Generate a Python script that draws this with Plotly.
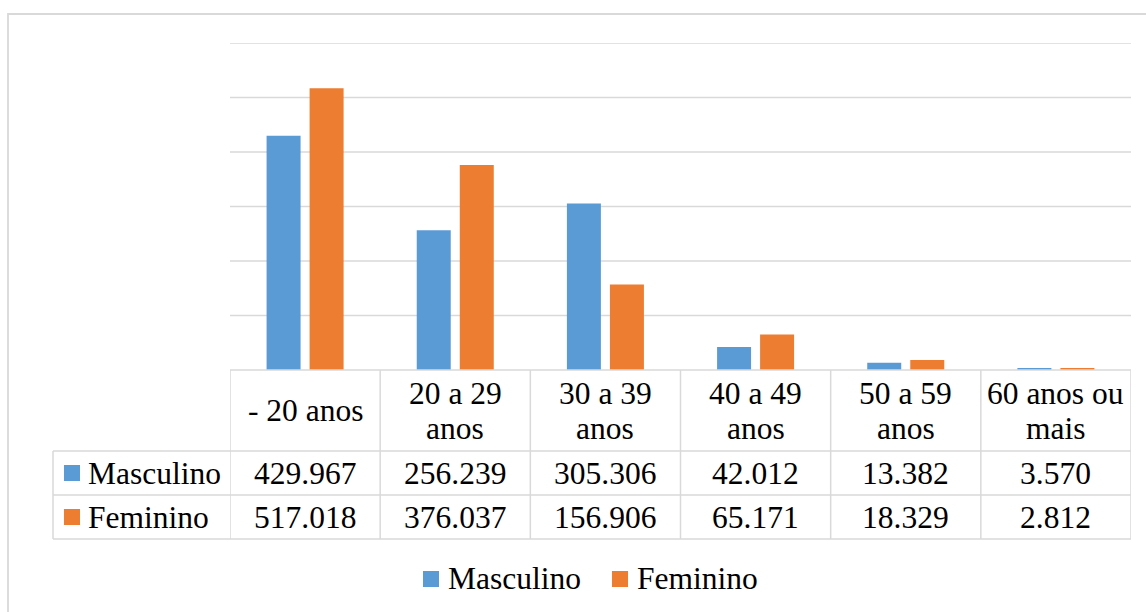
import plotly.graph_objects as go

# ---- data ----
categories = ["- 20 anos", "20 a 29<br>anos", "30 a 39<br>anos", "40 a 49<br>anos",
              "50 a 59<br>anos", "60 anos ou<br>mais"]
series_names = ["Masculino", "Feminino"]
masculino = [429967, 256239, 305306, 42012, 13382, 3570]
feminino = [517018, 376037, 156906, 65171, 18329, 2812]
y_ticks = [0, 100000, 200000, 300000, 400000, 500000, 600000]

# ---- style ----
W, H = 1146, 612
BLUE, ORANGE = "#5B9BD5", "#ED7D31"
GRID = "#D9D9D9"
FONT = "Liberation Serif, Times New Roman, DejaVu Serif, serif"
FS = 31.5
colors = [BLUE, ORANGE]
values = [masculino, feminino]
Y_MAX = y_ticks[-1]


def px(x):
    return x / W


def py(y):
    return 1 - y / H


def fmt(v):
    return f"{v:,}".replace(",", ".")


fig = go.Figure()
xs = list(range(len(categories)))
for name, vals, c in zip(series_names, values, colors):
    fig.add_trace(go.Bar(x=xs, y=vals, name=name, marker=dict(color=c, line=dict(width=0)),
                         showlegend=False, hoverinfo="y+name"))

shapes = []
annotations = []
line = dict(color=GRID, width=1.5)
n = len(categories)

# outer chart border (cut off at right and bottom)
shapes.append(dict(type="rect", xref="paper", yref="paper", x0=px(8), x1=px(W + 20),
                   y0=py(H + 20), y1=py(14), line=dict(color=GRID, width=1.8)))

# horizontal gridlines (value axis)
for t in y_ticks[1:]:
    shapes.append(dict(type="line", xref="x", yref="y", x0=-0.5, x1=n - 0.5,
                       y0=t, y1=t, line=line, layer="below"))

# table geometry (pixels)
T_TOP, R1, R2, R3 = 370, 451, 495, 539
LEFT = 53
shapes.append(dict(type="line", xref="x", yref="paper", x0=-0.5, x1=n - 0.5,
                   y0=py(T_TOP), y1=py(T_TOP), line=line))
for yy in (R1, R2, R3):
    shapes.append(dict(type="line", xref="paper", yref="paper", x0=px(LEFT), x1=px(1131),
                       y0=py(yy), y1=py(yy), line=line))
for i in range(n + 1):
    shapes.append(dict(type="line", xref="x", yref="paper", x0=i - 0.5, x1=i - 0.5,
                       y0=py(T_TOP), y1=py(R3), line=line))
shapes.append(dict(type="line", xref="paper", yref="paper", x0=px(LEFT), x1=px(LEFT),
                   y0=py(R1), y1=py(R3), line=line))

tf = dict(family=FONT, size=FS, color="black")

# header labels
for i, cat in enumerate(categories):
    parts = cat.split("<br>")
    ys = [411] if len(parts) == 1 else [393, 429]
    for part, yy in zip(parts, ys):
        annotations.append(dict(x=i, y=py(yy), xref="x", yref="paper", text=part,
                                showarrow=False, font=tf, xanchor="center", yanchor="middle"))

# data rows
row_centers = [473, 517]
for name, vals, c, yc in zip(series_names, values, colors, row_centers):
    shapes.append(dict(type="rect", xref="paper", yref="paper", x0=px(64), x1=px(80),
                       y0=py(yc + 8), y1=py(yc - 8), fillcolor=c, line=dict(width=0)))
    annotations.append(dict(x=px(86), y=py(yc), xref="paper", yref="paper", text=name,
                            showarrow=False, font=tf, xanchor="left", yanchor="middle"))
    for i, v in enumerate(vals):
        annotations.append(dict(x=i, y=py(yc), xref="x", yref="paper", text=fmt(v),
                                showarrow=False, font=tf, xanchor="center", yanchor="middle"))

# legend
leg = [(423, series_names[0], BLUE), (612, series_names[1], ORANGE)]
for x0, name, c in leg:
    shapes.append(dict(type="rect", xref="paper", yref="paper", x0=px(x0), x1=px(x0 + 16),
                       y0=py(587), y1=py(571), fillcolor=c, line=dict(width=0)))
    annotations.append(dict(x=px(x0 + 23), y=py(578), xref="paper", yref="paper", text=name,
                            showarrow=False, font=tf, xanchor="left", yanchor="middle"))

fig.update_layout(
    width=W, height=H,
    margin=dict(l=0, r=0, t=0, b=0),
    paper_bgcolor="white", plot_bgcolor="white",
    barmode="group", bargap=0.427, bargroupgap=0.21,
    xaxis=dict(domain=[px(230), px(1131)], range=[-0.5, n - 0.5], showticklabels=False,
               showgrid=False, zeroline=False, showline=False, fixedrange=True),
    yaxis=dict(domain=[py(370), py(43)], range=[0, Y_MAX], tickvals=y_ticks,
               showticklabels=False, showgrid=False, zeroline=False, showline=False,
               fixedrange=True),
    shapes=shapes, annotations=annotations,
    font=dict(family=FONT, color="black"),
)

fig.write_html("out.html", config={"displayModeBar": False},
               post_script="document.body.style.margin='0';document.body.style.padding='0';")
